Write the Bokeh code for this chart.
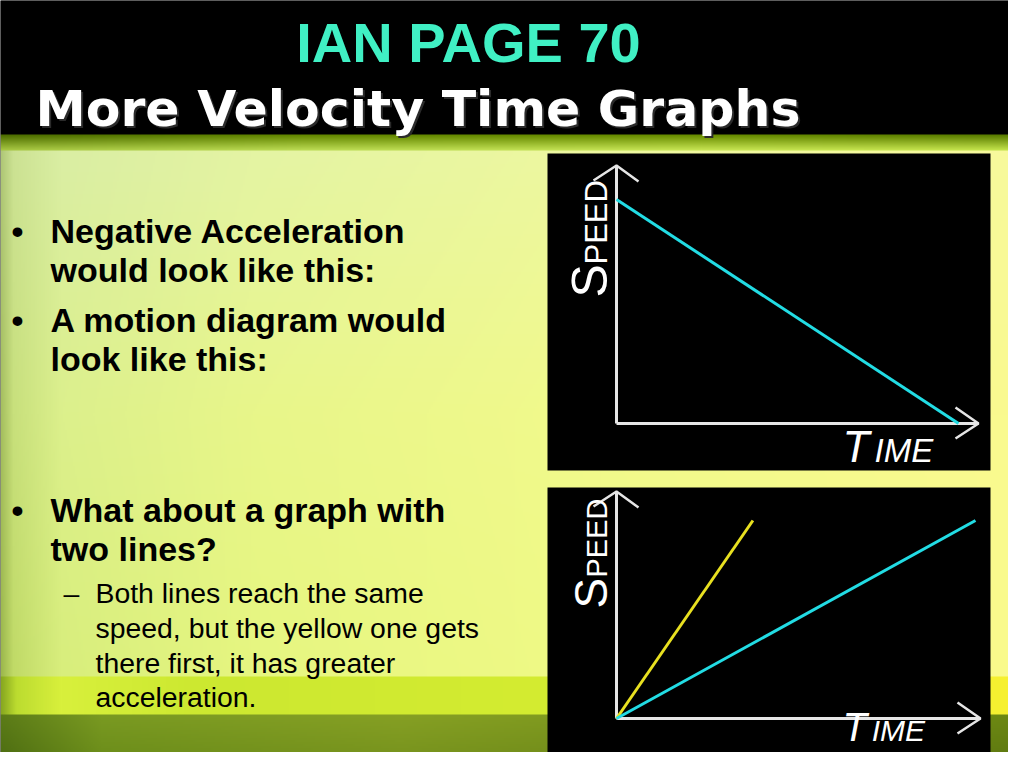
import numpy as np
from bokeh.plotting import figure
from bokeh.models import Range1d, Label
from bokeh.embed import file_html
from bokeh.resources import INLINE

# ---------------- data ----------------
title_text = "IAN PAGE 70"
subtitle_text = "More Velocity Time Graphs"
bullet_lines = ["Negative Acceleration", "would look like this:",
                "A motion diagram would", "look like this:",
                "What about a graph with", "two lines?"]
bullet_starts = [True, False, True, False, True, False]
sub_lines = ["Both lines reach the same", "speed, but the yellow one gets",
             "there first, it has greater", "acceleration."]

# graph 1: negative acceleration
g1_time = [0, 10]
g1_speed = [10, 0]
# graph 2: two lines reaching the same speed
g2_yellow_time = [0, 3.8]
g2_yellow_speed = [0, 10]
g2_cyan_time = [0, 10]
g2_cyan_speed = [0, 10]

# ---------------- layout helpers ----------------
SW, SH = 1024, 768          # slide coordinate system
W, H = 1008, 752            # figure size on the page (slide shown 1:1, cropped)
BASE_SHIFT = 0.36           # label anchor correction (fraction of font size)


def Y(y):
    return SH - y


def make_range(p0, v0, p1, v1, lo, hi):
    k = (v1 - v0) / (p1 - p0)
    return Range1d(start=v0 + (lo - p0) * k, end=v0 + (hi - p0) * k)


def px(size):
    return "%.1fpx" % size


def text_at(x, baseline, text, size, font="Liberation Sans", style="normal",
            color="black", align="left"):
    return Label(x=x, y=Y(baseline - BASE_SHIFT * size), text=text, text_align=align,
                 text_baseline="alphabetic", text_font=font, text_font_style=style,
                 text_font_size=px(size), text_color=color)


X0, X1 = 0, W
Y0, Y1 = SH - H, SH
p = figure(width=W, height=H, x_range=Range1d(X0, X1), y_range=Range1d(Y0, Y1),
           output_backend="svg", toolbar_location=None, min_border=0)
p.axis.visible = False
p.grid.visible = False
p.outline_line_color = None
p.background_fill_color = "black"
p.border_fill_color = "white"

p.extra_x_ranges = {
    "g1x": make_range(616, 0, 958, 10, X0, X1),
    "g2x": make_range(616, 0, 975, 10, X0, X1),
}
p.extra_y_ranges = {
    "g1y": make_range(Y(423), 0, Y(199), 10, Y0, Y1),
    "g2y": make_range(Y(718), 0, Y(520), 10, Y0, Y1),
}

# ---------------- background ----------------


def hexrgb(h):
    return [int(h[i:i + 2], 16) for i in (1, 3, 5)]


def hprofile(xs, cols):
    c = np.array([hexrgb(h) for h in cols], float)
    X = np.arange(SW)
    return np.stack([np.interp(X, xs, c[:, k]) for k in range(3)], axis=1)


img = np.zeros((SH, SW, 3))
band_top = hprofile([0, 300, 700, 1024], ["#4e6e00", "#648800", "#6a8e00", "#5a7c00"])
band_bot = hprofile([0, 300, 700, 1024], ["#a4c440", "#b8d850", "#c4e250", "#c0e048"])
for y in range(134, 149):
    t = (y - 134) / 14
    img[y] = band_top * (1 - t) + band_bot * t
upper = hprofile([0, 12, 60, 250, 600, 1024],
                 ["#b0c878", "#cce294", "#daeea4", "#e4f4a4", "#eef8a0", "#f8fa9c"])
mid = hprofile([0, 12, 60, 250, 600, 1024],
               ["#a6c060", "#c8e07c", "#dcf08c", "#e8f68a", "#f2fa8c", "#fafa90"])
lower = hprofile([0, 12, 60, 250, 600, 1024],
                 ["#9cb84c", "#c0da66", "#d8ee7c", "#e6f680", "#f0fa86", "#fafa8c"])
for y in range(149, 676):
    t = (y - 149) / 527
    if t < 0.5:
        s = t / 0.5
        img[y] = upper * (1 - s) + mid * s
    else:
        s = (t - 0.5) / 0.5
        img[y] = mid * (1 - s) + lower * s
lime = hprofile([0, 15, 60, 200, 545, 800, 1024],
                ["#88a820", "#bcdc30", "#d8f03c", "#cce830", "#d4ec30", "#e6f030", "#f8f030"])
img[676:713] = lime
ol_top = hprofile([0, 100, 400, 700, 1024], ["#5c7c18", "#7a9a22", "#86a024", "#7c961c", "#6c8812"])
ol_bot = hprofile([0, 100, 400, 700, 1024], ["#4a6a10", "#688a18", "#74901c", "#6a8416", "#5a7410"])
for y in range(713, SH):
    t = (y - 713) / (SH - 713)
    img[y] = ol_top * (1 - t) + ol_bot * t

small = img[::2, ::2][::-1]
h2, w2 = small.shape[:2]
rgba = np.empty((h2, w2), dtype=np.uint32)
view = rgba.view(dtype=np.uint8).reshape((h2, w2, 4))
view[..., 0] = small[..., 0].astype(np.uint8)
view[..., 1] = small[..., 1].astype(np.uint8)
view[..., 2] = small[..., 2].astype(np.uint8)
view[..., 3] = 255
p.image_rgba(image=[rgba], x=0, y=0, dw=SW, dh=SH)

# ---------------- header texts ----------------
p.add_layout(text_at(468, 62, title_text, 56, style="bold", color="#40F0C4", align="center"))
p.add_layout(text_at(37, 128, subtitle_text, 50.5, font="DejaVu Sans", style="bold", color="#2a2a2a"))
p.add_layout(text_at(35, 126, subtitle_text, 50.5, font="DejaVu Sans", style="bold", color="white"))

# ---------------- bullet texts ----------------
bullet_baselines = [243, 282, 332, 371, 522, 561]
for txt, start, b in zip(bullet_lines, bullet_starts, bullet_baselines):
    if start:
        p.add_layout(text_at(11, b, "\u2022", 34, style="bold"))
    p.add_layout(text_at(50, b, txt, 34, style="bold"))

sub_baselines = [603, 638, 673, 707]
p.add_layout(text_at(63, 603, "\u2013", 28.4))
for txt, b in zip(sub_lines, sub_baselines):
    p.add_layout(text_at(95, b, txt, 28.4))

# ---------------- graph panels ----------------
p.quad(left=[547, 547], right=[990, 990], top=[Y(153), Y(487)], bottom=[Y(470), Y(766)],
       fill_color="black", line_color=None)

axis_col = "#e6e6e6"
for ox, oy, ty, tx in [(616, 423, 165, 978), (616, 718, 491, 980)]:
    p.line([ox, ox], [Y(oy), Y(ty)], line_color=axis_col, line_width=3)
    p.line([ox, tx], [Y(oy), Y(oy)], line_color=axis_col, line_width=3)
    p.line([ox - 23, ox, ox + 22], [Y(ty + 15), Y(ty), Y(ty + 16)], line_color=axis_col, line_width=2.5)
    p.line([tx - 23, tx, tx - 23], [Y(oy - 16), Y(oy), Y(oy + 15)], line_color=axis_col, line_width=2.5)

# axis titles (S + PEED rotated, T + IME)
for s_start, peed_start, s_size, peed_size, tb, t_size, ime_size in [
        (297, 264, 50, 31, 462, 44, 33),
        (608, 577, 46, 29, 741, 40, 30)]:
    for txt, start, size in [("S", s_start, s_size), ("PEED", peed_start, peed_size)]:
        base_x = 607
        p.add_layout(Label(x=base_x - BASE_SHIFT * size, y=Y(start), text=txt, angle=np.pi / 2,
                           text_baseline="alphabetic", text_font="Liberation Sans",
                           text_font_size=px(size), text_color="white"))
    p.add_layout(text_at(842, tb, "T", t_size, style="italic", color="white"))
    p.add_layout(text_at(842 + 0.73 * t_size, tb, "IME", ime_size, style="italic", color="white"))

# ---------------- data lines ----------------
p.line(g1_time, g1_speed, x_range_name="g1x", y_range_name="g1y",
       line_color="#22DCE4", line_width=3)
p.line(g2_yellow_time, g2_yellow_speed, x_range_name="g2x", y_range_name="g2y",
       line_color="#E8E020", line_width=3)
p.line(g2_cyan_time, g2_cyan_speed, x_range_name="g2x", y_range_name="g2y",
       line_color="#22DCE4", line_width=3)

open("out.html", "w").write(file_html(p, INLINE))
